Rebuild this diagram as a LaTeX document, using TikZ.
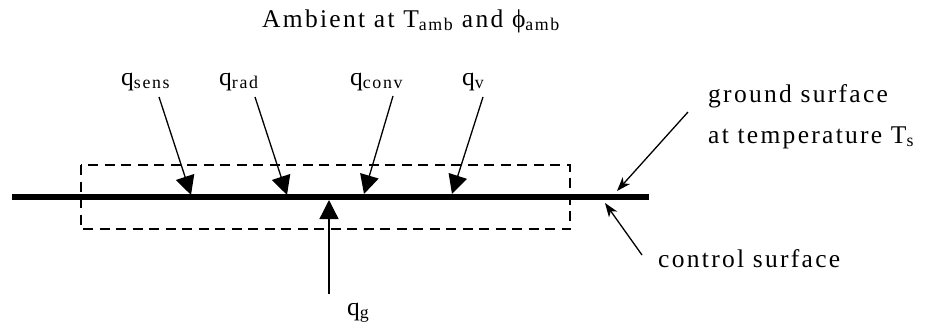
\documentclass[tikz,border=0pt]{standalone}
\usepackage{fontspec}
\setmainfont[LetterSpace=9]{Liberation Serif}
\usetikzlibrary{arrows.meta}
\newcommand\lsub[1]{\textsubscript{#1}}
\tikzset{
  lbl/.style={inner sep=0pt, anchor=base west, font=\fontsize{25.5}{30}\selectfont},
  bigarrow/.style={line width=1.3pt, -{Triangle[length=19pt,width=19pt]}},
  thinarrow/.style={line width=1.3pt, -{Stealth[length=14pt,width=10pt,inset=4pt]}},
  surface/.style={line width=6.5pt},
  cvbox/.style={line width=1.3pt, dash pattern=on 10pt off 6.5pt}
}
\begin{document}
\begin{tikzpicture}[x=1pt,y=-1pt]
\useasboundingbox (0,0) rectangle (927,325);
% title
\node[lbl] (title) at (262,27) {Ambient at T\lsub{amb} and \char"03D5\lsub{amb}};
% ground line and control box
\coordinate (gl) at (12,197);
\coordinate (gr) at (649,197);
\draw[surface] (gl) -- (gr);
\coordinate (cb1) at (81,165);
\coordinate (cb2) at (570,229);
\draw[cvbox] (cb1) rectangle (cb2);
% labels
\node[lbl] (qsens) at (121,85) {q\lsub{sens}};
\node[lbl] (qrad) at (219,85) {q\lsub{rad}};
\node[lbl] (qconv) at (350,85) {q\lsub{conv}};
\node[lbl] (qv) at (462,85) {q\lsub{v}};
\node[lbl] (qg) at (347,315) {q\lsub{g}};
\node[lbl] (gs1) at (708,102) {ground surface};
\node[lbl] (gs2) at (708,143) {at temperature T\lsub{s}};
\node[lbl] (cs) at (658,267) {control surface};
% arrow endpoints
\coordinate (s1) at (159,97);  \coordinate (t1) at (191,195);
\coordinate (s2) at (255,97);  \coordinate (t2) at (287,195);
\coordinate (s3) at (393,96);  \coordinate (t3) at (364,194);
\coordinate (s4) at (483,97);  \coordinate (t4) at (452,194);
\coordinate (s5) at (329,294); \coordinate (t5) at (329,200);
\coordinate (s6) at (688,112); \coordinate (t6) at (617,191);
\coordinate (s7) at (642,255); \coordinate (t7) at (605,203);
\draw[bigarrow] (s1) -- (t1);
\draw[bigarrow] (s2) -- (t2);
\draw[bigarrow] (s3) -- (t3);
\draw[bigarrow] (s4) -- (t4);
\draw[bigarrow] (s5) -- (t5);
\draw[thinarrow] (s6) -- (t6);
\draw[thinarrow] (s7) -- (t7);
\end{tikzpicture}
\end{document}
